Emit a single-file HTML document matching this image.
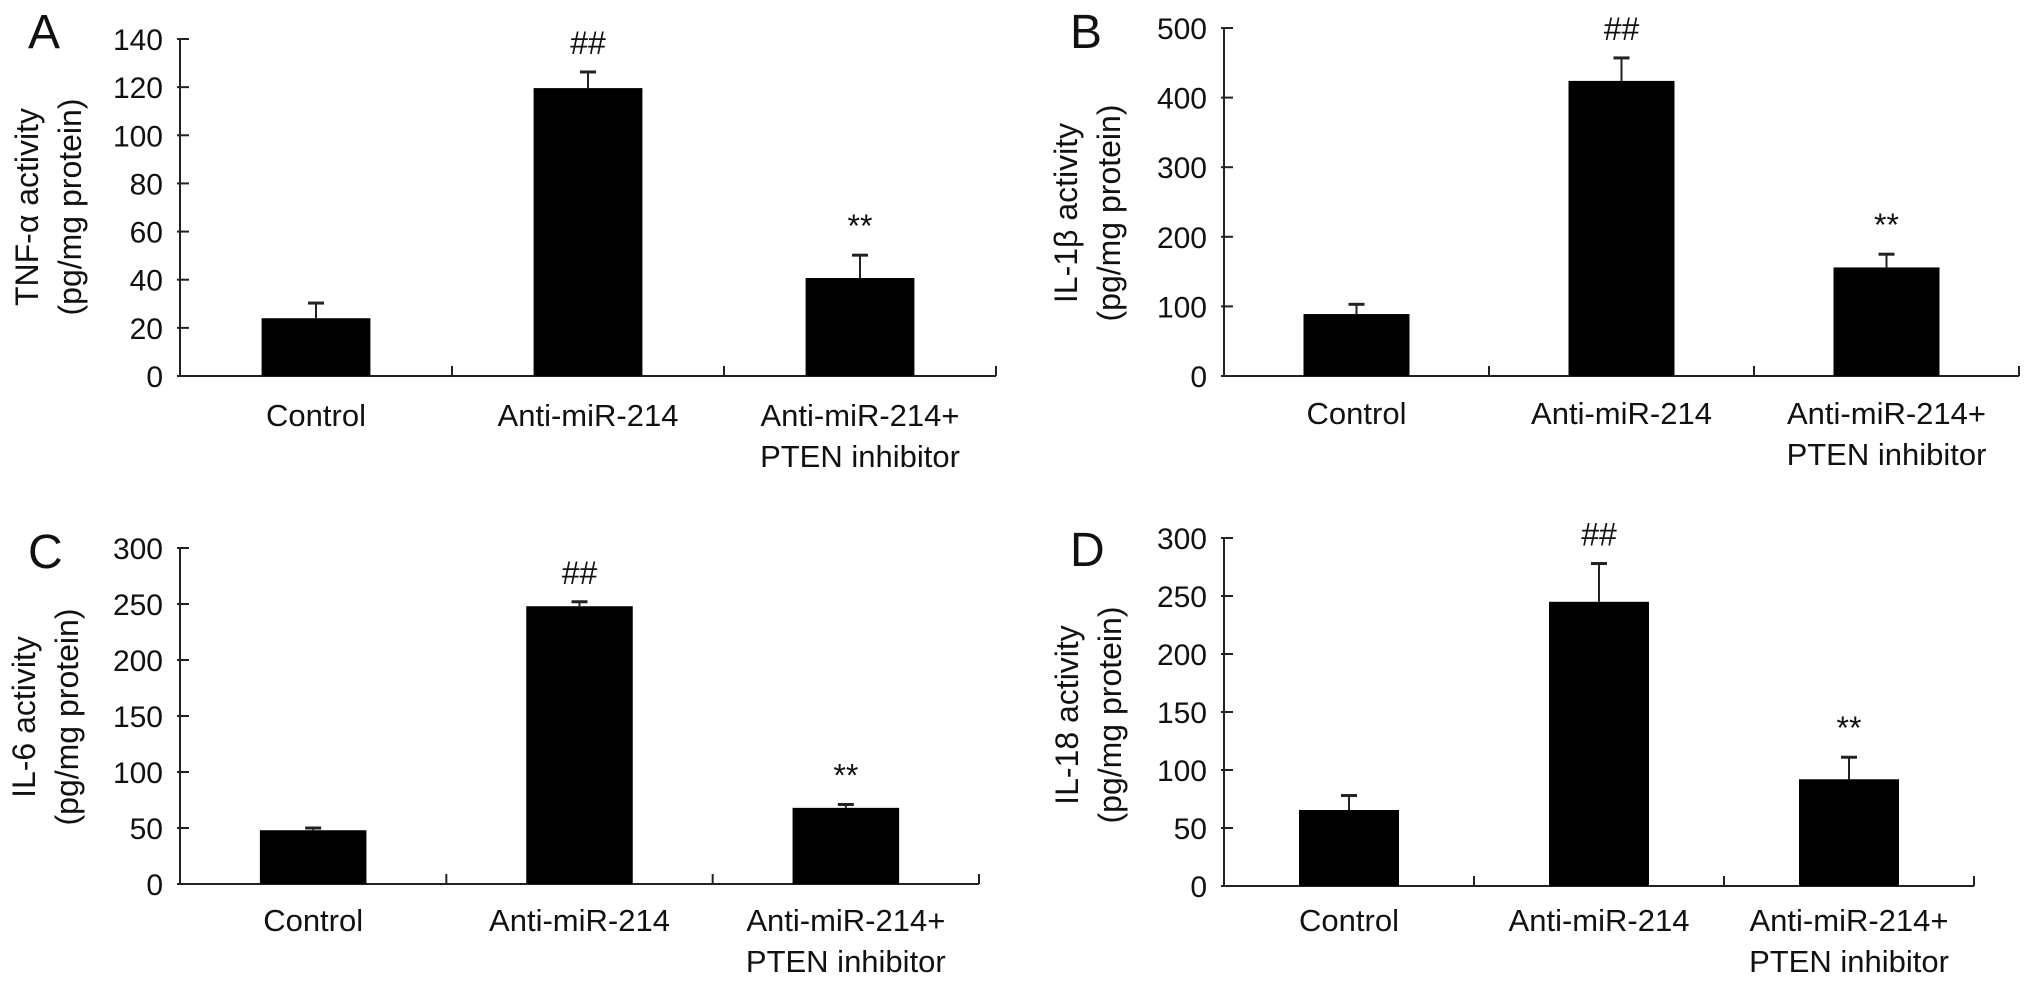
<!DOCTYPE html>
<html><head><meta charset="utf-8"><style>
html,body{margin:0;padding:0;background:#fff;}
svg{display:block;}
text{font-family:"Liberation Sans",sans-serif;fill:#111;}
</style></head><body>
<svg id="chart" width="2032" height="984" viewBox="0 0 2032 984" xmlns="http://www.w3.org/2000/svg"></svg>
<script>
const categories = ["Control", "Anti-miR-214", "Anti-miR-214+|PTEN inhibitor"];
const tnfValues = [24, 119.6, 40.7];
const tnfErrors = [6.3, 6.7, 9.5];
const tnfTicks = [0, 20, 40, 60, 80, 100, 120, 140];
const il1bValues = [89, 424, 156];
const il1bErrors = [14, 33, 19];
const il1bTicks = [0, 100, 200, 300, 400, 500];
const il6Values = [48, 248, 68];
const il6Errors = [2, 4, 3];
const il6Ticks = [0, 50, 100, 150, 200, 250, 300];
const il18Values = [65.5, 245, 92];
const il18Errors = [12.5, 33, 19];
const il18Ticks = [0, 50, 100, 150, 200, 250, 300];
const markers = ["", "##", "**"];

const svg = document.getElementById('chart');
const NS = 'http://www.w3.org/2000/svg';
function mk(tag, attrs, parent) {
  const e = document.createElementNS(NS, tag);
  for (const k in attrs) e.setAttribute(k, attrs[k]);
  (parent || svg).appendChild(e);
  return e;
}

const panels = [
  {id:'a', letter:'A', title:'TNF-α activity', values:tnfValues, errors:tnfErrors, ticks:tnfTicks,
   ax:180, axEnd:996, base:376, top:39, lx:28, ly:48, tx:27, ty:207, catY:415},
  {id:'b', letter:'B', title:'IL-1β activity', values:il1bValues, errors:il1bErrors, ticks:il1bTicks,
   ax:1224, axEnd:2019, base:376, top:28, lx:1070, ly:48, tx:1066, ty:213, catY:413},
  {id:'c', letter:'C', title:'IL-6 activity', values:il6Values, errors:il6Errors, ticks:il6Ticks,
   ax:180, axEnd:979, base:884, top:548, lx:28, ly:568, tx:24, ty:717, catY:920},
  {id:'d', letter:'D', title:'IL-18 activity', values:il18Values, errors:il18Errors, ticks:il18Ticks,
   ax:1224, axEnd:1974, base:886, top:538, lx:1070, ly:566, tx:1067, ty:715, catY:920}
];

panels.forEach(p => {
  const g = mk('g', {});
  
  
  const maxV = p.ticks[p.ticks.length - 1];
  const y = v => p.base - (v / maxV) * (p.base - p.top);
  const catW = (p.axEnd - p.ax) / categories.length;
  const xc = i => p.ax + catW * (i + 0.5);
  const barW = catW * 0.4;

  const letter = mk('text', {x:p.lx, y:p.ly, 'font-size':48}, g);
  letter.textContent = p.letter;
  
  

  const yAxis = mk('line', {x1:p.ax, y1:p.top, x2:p.ax, y2:p.base, stroke:'#222', 'stroke-width':2}, g);
  
  
  p.ticks.forEach(t => {
    const tl = mk('line', {x1:p.ax - 3, y1:y(t), x2:p.ax + 9, y2:y(t), stroke:'#222', 'stroke-width':2}, g);
    
    
    const tx = mk('text', {x:p.ax - 17, y:y(t) + 11, 'font-size':30, 'text-anchor':'end'}, g);
    tx.textContent = t;
    
    
  });
  const xAxis = mk('line', {x1:p.ax, y1:p.base, x2:p.axEnd, y2:p.base, stroke:'#222', 'stroke-width':2}, g);
  
  
  for (let i = 1; i <= categories.length; i++) {
    const xt = p.ax + catW * i;
    const tk = mk('line', {x1:xt, y1:p.base - 10, x2:xt, y2:p.base, stroke:'#222', 'stroke-width':2}, g);
    
    
  }
  const tt = mk('text', {transform:`translate(${p.tx + 11},${p.ty}) rotate(-90)`, 'font-size':32, 'text-anchor':'middle'}, g);
  tt.textContent = p.title;
  
  
  const tt2 = mk('text', {transform:`translate(${p.tx + 54},${p.ty}) rotate(-90)`, 'font-size':32, 'text-anchor':'middle'}, g);
  tt2.textContent = '(pg/mg protein)';
  
  

  p.values.forEach((v, i) => {
    const cx = xc(i);
    const bar = mk('rect', {x:cx - barW / 2, y:y(v), width:barW, height:p.base - y(v), fill:'#000'}, g);
    
    
    const et = y(v + p.errors[i]);
    const el = mk('line', {x1:cx, y1:y(v), x2:cx, y2:et, stroke:'#222', 'stroke-width':2}, g);
    
    
    const ec = mk('line', {x1:cx - 8, y1:et, x2:cx + 8, y2:et, stroke:'#222', 'stroke-width':3}, g);
    
    
    if (markers[i]) {
      const m = mk('text', {x:cx, y:et - 18, 'font-size':32, 'text-anchor':'middle'}, g);
      m.textContent = markers[i];
      
      
    }
    const lines = categories[i].split('|');
    lines.forEach((ln, j) => {
      const ct = mk('text', {x:cx, y:p.catY + 11 + j * 41, 'font-size':31, 'text-anchor':'middle'}, g);
      ct.textContent = ln;
      
      
    });
  });
});
</script>
</body></html>
